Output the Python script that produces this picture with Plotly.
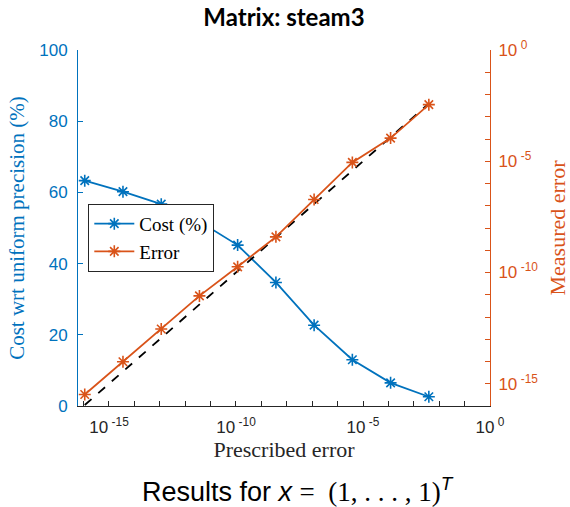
import plotly.graph_objects as go

# Prescribed error levels (u = 2^-53 ... 2^-8)
prescribed = [1.11e-16, 3.55e-15, 1.14e-13, 3.64e-12, 1.16e-10,
              3.73e-09, 1.19e-07, 3.81e-06, 1.22e-04, 3.91e-03]
# Cost relative to uniform precision (%)
cost_pct = [63.3, 60.2, 56.7, 51.8, 45.2, 34.7, 22.7, 13.0, 6.5, 2.6]
# Measured error
measured = [3.3e-16, 9.8e-15, 2.9e-13, 8.9e-12, 1.8e-10,
            4.0e-09, 1.9e-07, 8.9e-06, 1.1e-04, 3.5e-03]

x_decades = list(range(-16, 1))
x_labels = {-15: "10\u2009<sup>-15</sup>", -10: "10\u2009<sup>-10</sup>",
            -5: "10\u2009<sup>-5</sup>", 0: "10\u2009<sup>0</sup>"}
y2_decades = list(range(-16, 1))
y2_labels = {-15: "10\u2009<sup>-15</sup>", -10: "10\u2009<sup>-10</sup>",
             -5: "10\u2009<sup>-5</sup>", 0: "10\u2009<sup>0</sup>"}

BLUE = "#0072BD"
ORANGE = "#D95319"
DARK = "#262626"
SERIF = "Liberation Serif, DejaVu Serif, serif"
SANS = "Liberation Sans, Arial, sans-serif"

fig = go.Figure()

fig.add_trace(go.Scatter(
    x=prescribed, y=cost_pct, name="Cost (%)", mode="lines+markers",
    line=dict(color=BLUE, width=1.8),
    marker=dict(symbol="asterisk", size=10, line=dict(color=BLUE, width=1.6)),
    yaxis="y",
))
fig.add_trace(go.Scatter(
    x=prescribed, y=prescribed, mode="lines", showlegend=False,
    line=dict(color="black", width=1.8, dash="dash"), yaxis="y2",
))
fig.add_trace(go.Scatter(
    x=prescribed, y=measured, name="Error", mode="lines+markers",
    line=dict(color=ORANGE, width=1.8),
    marker=dict(symbol="asterisk", size=10, line=dict(color=ORANGE, width=1.6)),
    yaxis="y2",
))

fig.update_layout(
    width=570, height=507,
    margin=dict(l=78, r=80, t=50, b=101),
    paper_bgcolor="white", plot_bgcolor="white",
    title=dict(text="<b>Matrix: steam3</b>", x=0.5, xanchor="center",
               xref="paper", y=0.9645, yanchor="middle",
               font=dict(family="Lato, " + SANS, size=24, color="black")),
    xaxis=dict(
        type="log", range=[-16.22, 0], automargin=False,
        tickvals=[10.0 ** d for d in x_decades],
        ticktext=[x_labels.get(d, "") for d in x_decades],
        ticks="inside", ticklen=5, tickcolor=DARK, tickwidth=1,
        ticklabelstandoff=6,
        showline=True, linecolor=DARK, linewidth=1, mirror=False,
        showgrid=False, zeroline=False,
        tickfont=dict(family=SANS, size=17, color=DARK),
        title=dict(text="Prescribed error", standoff=5,
                   font=dict(family=SERIF, size=22, color=DARK)),
    ),
    yaxis=dict(
        range=[0, 100], tickvals=[0, 20, 40, 60, 80, 100], automargin=False,
        ticks="inside", ticklen=5, tickcolor=BLUE,
        ticklabelstandoff=6,
        showline=True, linecolor=BLUE, linewidth=1,
        showgrid=False, zeroline=False,
        tickfont=dict(family=SANS, size=17, color=BLUE),
        title=dict(text="Cost wrt uniform precision (%)", standoff=8,
                   font=dict(family=SERIF, size=21, color=BLUE)),
    ),
    yaxis2=dict(
        type="log", range=[-16, 0], overlaying="y", side="right",
        automargin=False,
        tickvals=[10.0 ** d for d in y2_decades],
        ticktext=[y2_labels.get(d, "") for d in y2_decades],
        ticks="inside", ticklen=5, tickcolor=ORANGE,
        ticklabelstandoff=4,
        showline=True, linecolor=ORANGE, linewidth=1,
        showgrid=False, zeroline=False,
        tickfont=dict(family=SANS, size=17, color=ORANGE),
        title=dict(text="Measured error", standoff=14,
                   font=dict(family=SERIF, size=22, color=ORANGE)),
    ),
    legend=dict(
        x=0.025, y=0.568, xanchor="left", yanchor="top",
        bgcolor="white", bordercolor="#262626", borderwidth=1,
        font=dict(family=SERIF, size=19, color="black"),
        tracegroupgap=0, itemwidth=40,
    ),
    showlegend=True,
)

MATH = "font-family:'Liberation Serif', serif"
fig.add_annotation(
    text=("Results for <i>x</i> "
          f"<span style=\"{MATH}\">=  (1, . . . , 1)</span>"
          "<sup><i>T</i></sup>"),
    xref="paper", yref="paper", x=0.535, y=-0.235,
    xanchor="center", yanchor="middle", showarrow=False,
    font=dict(family=SANS, size=27, color="black"),
)

fig.write_html("out.html")
